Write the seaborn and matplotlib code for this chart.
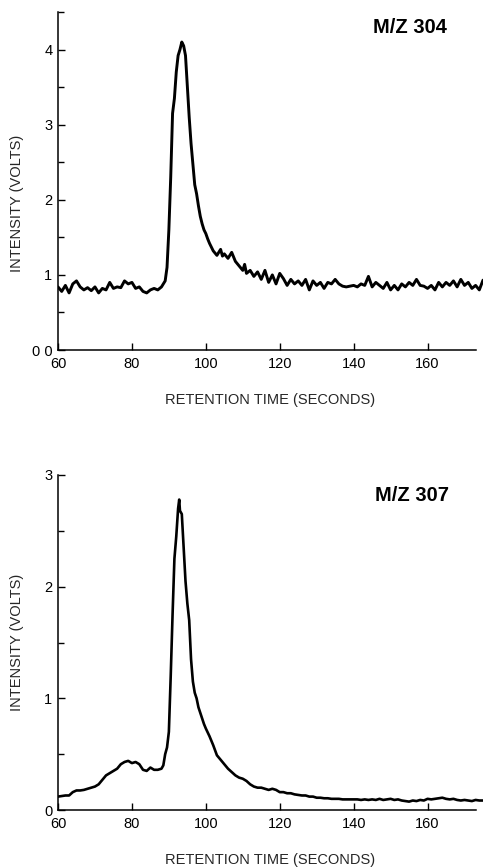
import numpy as np
import pandas as pd
import matplotlib
matplotlib.use("Agg")
import matplotlib.pyplot as plt
from matplotlib.ticker import MultipleLocator
import seaborn as sns

# ---------------- data ----------------
time_304 = [60, 61, 62, 63, 64, 65, 66, 67, 68, 69, 70, 71, 72, 73, 74, 75, 76, 77, 78, 79,
            80, 81, 82, 83, 84, 85, 86, 87, 88, 89, 89.5, 90, 90.5, 91, 91.5, 92, 92.5, 93, 93.5, 94,
            94.5, 95, 95.5, 96, 96.5, 97, 97.5, 98, 98.5, 99, 99.5, 100, 100.5, 101, 102, 103, 104, 104.5, 105, 106,
            107, 108, 109, 110, 110.5, 111, 112, 113, 114, 115, 116, 117, 118, 119, 120, 121, 122, 123, 124, 125,
            126, 127, 128, 129, 130, 131, 132, 133, 134, 135, 136, 137, 138, 139, 140, 141, 142, 143, 144, 145,
            146, 147, 148, 149, 150, 151, 152, 153, 154, 155, 156, 157, 158, 159, 160, 161, 162, 163, 164, 165,
            166, 167, 168, 169, 170, 171, 172, 173, 174, 175]
intensity_304 = [0.84, 0.78, 0.86, 0.76, 0.88, 0.92, 0.84, 0.80, 0.83, 0.79, 0.84, 0.76, 0.82, 0.80, 0.90, 0.82, 0.84, 0.83, 0.92, 0.88,
                 0.90, 0.82, 0.84, 0.78, 0.76, 0.80, 0.82, 0.80, 0.84, 0.92, 1.10, 1.60, 2.30, 3.15, 3.35, 3.70, 3.92, 4.00, 4.10, 4.05,
                 3.92, 3.50, 3.10, 2.75, 2.48, 2.20, 2.08, 1.92, 1.78, 1.68, 1.60, 1.55, 1.48, 1.42, 1.32, 1.26, 1.34, 1.25, 1.28, 1.22,
                 1.30, 1.18, 1.12, 1.06, 1.14, 1.02, 1.06, 0.98, 1.04, 0.94, 1.06, 0.90, 1.00, 0.88, 1.02, 0.95, 0.86, 0.94, 0.88, 0.92,
                 0.86, 0.94, 0.80, 0.92, 0.86, 0.90, 0.82, 0.90, 0.88, 0.94, 0.88, 0.85, 0.84, 0.85, 0.86, 0.84, 0.88, 0.86, 0.98, 0.84,
                 0.90, 0.86, 0.82, 0.90, 0.80, 0.86, 0.80, 0.88, 0.84, 0.90, 0.86, 0.94, 0.86, 0.85, 0.82, 0.86, 0.80, 0.90, 0.84, 0.90,
                 0.86, 0.92, 0.84, 0.94, 0.86, 0.90, 0.82, 0.86, 0.80, 0.93]

time_307 = [60, 61, 62, 63, 64, 65, 66, 67, 68, 69, 70, 71, 72, 73, 74, 75, 76, 77, 78, 79,
            80, 81, 82, 83, 84, 85, 86, 87, 88, 88.5, 89, 89.5, 90, 90.5, 91, 91.5, 92, 92.5, 92.8, 93,
            93.5, 94, 94.5, 95, 95.5, 96, 96.5, 97, 97.5, 98, 98.5, 99, 99.5, 100, 101, 102, 103, 104, 105, 106,
            107, 108, 109, 110, 111, 112, 113, 114, 115, 116, 117, 118, 119, 120, 121, 122, 123, 124, 125, 126,
            127, 128, 129, 130, 131, 132, 133, 134, 135, 136, 137, 138, 139, 140, 141, 142, 143, 144, 145, 146,
            147, 148, 149, 150, 151, 152, 153, 154, 155, 156, 157, 158, 159, 160, 161, 162, 163, 164, 165, 166,
            167, 168, 169, 170, 171, 172, 173, 174, 175]
intensity_307 = [0.12, 0.125, 0.13, 0.13, 0.16, 0.175, 0.175, 0.18, 0.19, 0.20, 0.21, 0.23, 0.27, 0.31, 0.33, 0.35, 0.37, 0.41, 0.43, 0.44,
                 0.42, 0.43, 0.41, 0.36, 0.35, 0.38, 0.36, 0.36, 0.37, 0.40, 0.50, 0.56, 0.70, 1.20, 1.75, 2.25, 2.45, 2.70, 2.78, 2.68,
                 2.65, 2.35, 2.05, 1.85, 1.70, 1.35, 1.15, 1.05, 1.00, 0.92, 0.87, 0.82, 0.77, 0.73, 0.66, 0.58, 0.49, 0.45, 0.41, 0.37,
                 0.34, 0.31, 0.29, 0.28, 0.26, 0.23, 0.21, 0.20, 0.20, 0.19, 0.18, 0.19, 0.18, 0.16, 0.16, 0.15, 0.15, 0.14, 0.135, 0.13,
                 0.13, 0.12, 0.12, 0.11, 0.11, 0.105, 0.105, 0.10, 0.10, 0.10, 0.095, 0.095, 0.095, 0.095, 0.095, 0.09, 0.095, 0.09, 0.095, 0.09,
                 0.10, 0.09, 0.095, 0.10, 0.09, 0.095, 0.085, 0.08, 0.075, 0.085, 0.08, 0.09, 0.085, 0.10, 0.095, 0.10, 0.105, 0.11, 0.10, 0.095,
                 0.10, 0.09, 0.085, 0.09, 0.085, 0.08, 0.09, 0.085, 0.085]

x_ticks = [60, 80, 100, 120, 140, 160]
y_ticks_304 = [0, 1, 2, 3, 4]
y_labels_304 = ["0 0", "1", "2", "3", "4"]
y_ticks_307 = [0, 1, 2, 3]
y_labels_307 = ["0", "1", "2", "3"]

titles = ["M/Z 304", "M/Z 307"]
x_label = "RETENTION TIME (SECONDS)"
y_label = "INTENSITY (VOLTS)"

# ---------------- style ----------------
sns.set_style("ticks")
plt.rcParams["font.family"] = ["Liberation Sans", "DejaVu Sans"]

W, H = 486, 867
fig = plt.figure(figsize=(W / 100, H / 100), dpi=100)
fig.patch.set_facecolor("white")


def px_axes(left, right, top, bottom):
    return fig.add_axes([left / W, 1 - bottom / H, (right - left) / W, (bottom - top) / H])


ax1 = px_axes(58, 483, 12, 350)
ax2 = px_axes(58, 483, 475, 810)

df1 = pd.DataFrame({"t": time_304, "v": intensity_304})
df2 = pd.DataFrame({"t": time_307, "v": intensity_307})

sns.lineplot(data=df1, x="t", y="v", ax=ax1, color="black", linewidth=2.1, estimator=None, sort=False)
sns.lineplot(data=df2, x="t", y="v", ax=ax2, color="black", linewidth=1.9, estimator=None, sort=False)

configs = [
    (ax1, (0, 4.5), y_ticks_304, y_labels_304, titles[0], 0.828, 0.955, 0.435),
    (ax2, (0, 3.0), y_ticks_307, y_labels_307, titles[1], 0.833, 0.94, 0.50),
]
for ax, ylim, yt, yl, title, tx, ty, ly in configs:
    ax.set_facecolor("white")
    ax.set_xlim(60, 175)
    ax.set_ylim(*ylim)
    ax.set_xticks(x_ticks)
    ax.set_xticklabels([str(v) for v in x_ticks])
    ax.set_yticks(yt)
    ax.set_yticklabels(yl)
    ax.yaxis.set_minor_locator(MultipleLocator(0.5))
    ax.tick_params(axis="both", which="major", direction="in", length=5, width=1.0,
                   labelsize=10.5, color="black", labelcolor="black")
    ax.tick_params(axis="x", which="major", pad=5)
    ax.tick_params(axis="y", which="major", pad=4)
    ax.tick_params(axis="y", which="minor", direction="in", length=4, width=1.0, color="black")
    for s in ["top", "right"]:
        ax.spines[s].set_visible(False)
    for s in ["left", "bottom"]:
        ax.spines[s].set_color("black")
        ax.spines[s].set_linewidth(1.1)
    ax.spines["bottom"].set_bounds(60, 173)
    ax.set_xlabel(x_label, fontsize=10.5, va="center")
    ax.set_ylabel(y_label, fontsize=10.5, va="center")
    ax.xaxis.set_label_coords(0.5, -0.148)
    ax.yaxis.set_label_coords(-0.096, ly)
    ax.text(tx, ty, title, transform=ax.transAxes, ha="center", va="center",
            fontsize=14.5, fontweight="bold", color="black")

fig.savefig("out.png", dpi=100, facecolor="white")
